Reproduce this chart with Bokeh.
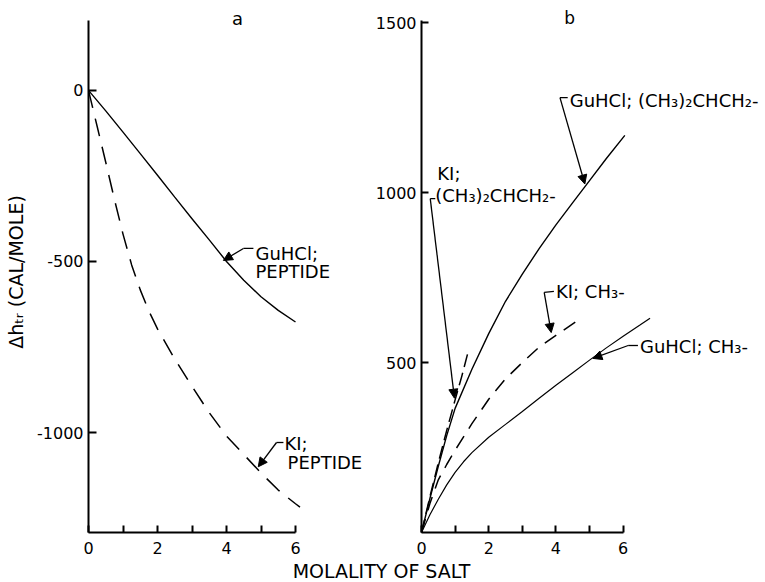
from bokeh.plotting import figure
from bokeh.layouts import row, column
from bokeh.models import Range1d, FixedTicker, Label, Arrow, NormalHead
from bokeh.embed import file_html
from bokeh.resources import INLINE

FONT = "DejaVu Sans"

# ---------------- data ----------------
# panel a : peptide group
a_guhcl_x = [0, 0.5, 1, 1.5, 2, 2.5, 3, 3.5, 4, 4.5, 5, 5.5, 6]
a_guhcl_y = [0, -60, -122, -185, -248, -312, -375, -437, -500, -555, -603, -643, -677]
a_ki_x = [0, 0.25, 0.5, 0.75, 1, 1.25, 1.5, 1.75, 2, 2.5, 3, 3.5, 4, 4.5, 5, 5.5, 6, 6.13]
a_ki_y = [0, -105, -210, -318, -420, -510, -583, -645, -697, -785, -865, -942, -1010,
          -1064, -1118, -1168, -1208, -1218]

# panel b : side chains
b_guhcl_ibu_x = [0, 0.25, 0.5, 0.75, 1, 1.5, 2, 2.5, 3, 3.5, 4, 4.5, 5, 5.5, 6.05]
b_guhcl_ibu_y = [0, 100, 195, 285, 365, 480, 585, 680, 760, 835, 905, 970, 1035, 1100, 1168]
b_ki_ibu_x = [0, 0.25, 0.5, 0.75, 1, 1.2, 1.37]
b_ki_ibu_y = [0, 105, 205, 300, 390, 460, 525]
b_ki_me_x = [0, 0.25, 0.5, 0.75, 1, 1.5, 2, 2.5, 3, 3.5, 4, 4.67]
b_ki_me_y = [0, 85, 155, 200, 242, 320, 392, 452, 500, 545, 580, 625]
b_guhcl_me_x = [0, 0.25, 0.5, 0.75, 1, 1.25, 1.5, 2, 2.5, 3, 3.5, 4, 4.5, 5, 5.5, 6, 6.5, 6.8]
b_guhcl_me_y = [0, 52, 98, 140, 177, 208, 235, 280, 318, 356, 395, 433, 470, 507, 543, 577,
                610, 630]

x_ticks = [0, 2, 4, 6]
x_minor_ticks = [1, 3, 5]
a_y_ticks = [-1000, -500, 0]
b_y_ticks = [500, 1000, 1500]

# ---------------- helpers ----------------
def base_style(p):
    p.grid.visible = False
    p.outline_line_color = None
    p.background_fill_color = "white"
    p.border_fill_color = "white"
    ax = p.xaxis[0]
    ax.bounds = (0, 6)
    ax.ticker = FixedTicker(ticks=x_ticks, minor_ticks=x_minor_ticks)
    ax.axis_line_width = 2
    ax.axis_line_color = "black"
    ax.major_tick_line_width = 2
    ax.minor_tick_line_width = 2
    ax.major_tick_line_color = "black"
    ax.minor_tick_line_color = "black"
    ax.major_tick_in = 7
    ax.major_tick_out = 0
    ax.minor_tick_in = 7
    ax.minor_tick_out = 0
    ax.major_label_standoff = 9
    ax.major_label_text_font = FONT
    ax.major_label_text_font_size = "16px"
    ax.major_label_text_color = "black"
    ay = p.yaxis[0]
    ay.axis_line_width = 2
    ay.axis_line_color = "black"
    ay.major_tick_line_width = 2
    ay.major_tick_line_color = "black"
    ay.major_tick_in = 8
    ay.major_tick_out = 0
    ay.minor_tick_line_color = None
    ay.major_label_standoff = 5
    ay.major_label_text_font = FONT
    ay.major_label_text_font_size = "16px"
    ay.major_label_text_color = "black"


def note(p, x, y, text, align="left", size="18px"):
    p.add_layout(Label(x=x, y=y, text=text, text_font=FONT, text_font_size=size,
                       text_align=align, text_baseline="middle", text_color="black"))


def leader(p, hook, corner, tip):
    p.add_layout(Arrow(end=None, x_start=hook[0], y_start=hook[1],
                       x_end=corner[0], y_end=corner[1], line_width=1.3))
    p.add_layout(Arrow(end=NormalHead(size=9, fill_color="black", line_color="black"),
                       x_start=corner[0], y_start=corner[1], x_end=tip[0], y_end=tip[1],
                       line_width=1.3))

# ---------------- panel a ----------------
p1 = figure(width=372, height=558, output_backend="svg", toolbar_location=None,
            x_range=Range1d(0, 284 / 34.5), y_range=Range1d(-1292, 248),
            min_border_left=88, min_border_right=0, min_border_top=5, min_border_bottom=26)
base_style(p1)
p1.yaxis[0].bounds = (-1292, 205)
p1.yaxis[0].ticker = FixedTicker(ticks=a_y_ticks, minor_ticks=[])
p1.yaxis[0].major_label_overrides = {-1000: "-1000", -500: "-500", 0: "0"}
p1.yaxis[0].axis_label = "Δhₜᵣ  (CAL/MOLE)"
p1.yaxis[0].axis_label_text_font = FONT
p1.yaxis[0].axis_label_text_font_size = "19px"
p1.yaxis[0].axis_label_text_font_style = "normal"
p1.yaxis[0].axis_label_text_color = "black"
p1.yaxis[0].axis_label_standoff = 7

p1.line(a_guhcl_x, a_guhcl_y, line_color="black", line_width=1.4)
p1.line(a_ki_x, a_ki_y, line_color="black", line_width=1.5, line_dash="18 11")

note(p1, 4.32, 210, "a", align="center")
note(p1, 4.84, -477, "GuHCl;")
note(p1, 4.84, -529, "PEPTIDE")
leader(p1, (4.78, -462), (4.49, -462), (3.91, -497))
note(p1, 5.68, -1032, "KI;")
note(p1, 5.77, -1088, "PEPTIDE")
leader(p1, (5.65, -1029), (5.45, -1029), (4.92, -1100))

# ---------------- panel b ----------------
p2 = figure(width=393, height=558, output_backend="svg", toolbar_location=None,
            x_range=Range1d(0, 348 / 34.0), y_range=Range1d(0, 527 / 0.34),
            min_border_left=45, min_border_right=0, min_border_top=5, min_border_bottom=26)
base_style(p2)
p2.yaxis[0].bounds = (0, 1505)
p2.yaxis[0].ticker = FixedTicker(ticks=b_y_ticks, minor_ticks=[])
p2.yaxis[0].major_tick_in = 7

p2.line(b_guhcl_ibu_x, b_guhcl_ibu_y, line_color="black", line_width=1.4)
p2.line(b_guhcl_me_x, b_guhcl_me_y, line_color="black", line_width=1.2)
p2.line(b_ki_ibu_x, b_ki_ibu_y, line_color="black", line_width=1.5, line_dash="13 6")
p2.line(b_ki_me_x, b_ki_me_y, line_color="black", line_width=1.5, line_dash="14 9")

note(p2, 4.41, 1512, "b", align="center", size="17px")
note(p2, 4.41, 1271, "GuHCl; (CH₃)₂CHCH₂-")
leader(p2, (4.35, 1279), (4.12, 1279), (4.86, 1025))
note(p2, 0.47, 1056, "KI;")
note(p2, 0.41, 991, "(CH₃)₂CHCH₂-")
leader(p2, (0.41, 982), (0.26, 982), (0.98, 395))
note(p2, 4.0, 709, "KI; CH₃-")
leader(p2, (3.94, 709), (3.65, 706), (3.86, 588))
note(p2, 6.5, 547, "GuHCl; CH₃-")
leader(p2, (6.44, 550), (6.15, 550), (5.1, 512))

# ---------------- shared x label ----------------
p3 = figure(width=765, height=24, output_backend="svg", toolbar_location=None,
            x_range=Range1d(0, 765), y_range=Range1d(0, 24),
            x_axis_location=None, y_axis_location=None, min_border=0)
p3.grid.visible = False
p3.outline_line_color = None
note(p3, 381, 12, "MOLALITY OF SALT", align="center", size="19px")

layout = column(row(p1, p2), p3)
open("out.html", "w").write(file_html(layout, INLINE))
